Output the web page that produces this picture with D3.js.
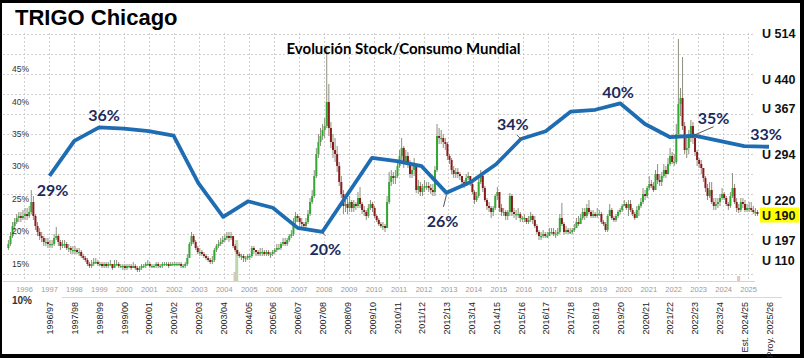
<!DOCTYPE html>
<html><head><meta charset="utf-8">
<script src="https://cdn.jsdelivr.net/npm/d3@7"></script>
<style>body{margin:0;background:#fff} svg{display:block}</style>
</head><body><svg id="c" width="804" height="358"></svg>
<script>
// ---------- DATA ----------
const title = "TRIGO Chicago";
const subtitle = "Evolución Stock/Consumo Mundial";
const pctTicks = [45, 40, 35, 30, 25, 20, 15, 10];
const yearLabels = [1996,1997,1998,1999,2000,2001,2002,2003,2004,2005,2006,2007,2008,2009,2010,
  2011,2012,2013,2014,2015,2016,2017,2018,2019,2020,2021,2022,2023,2024,2025];
const seasons = ["1996/97","1997/98","1998/99","1999/00","2000/01","2001/02","2002/03","2003/04",
  "2004/05","2005/06","2006/07","2007/08","2008/09","2009/10","2010/11","2011/12","2012/13",
  "2013/14","2014/15","2015/16","2016/17","2017/18","2018/19","2019/20","2020/21","2021/22",
  "2022/23","2023/24","Est. 2024/25","Proy. 2025/26"];
// world stock / consumption ratio (%)
const stockRatio = [28.5,33.9,36.0,35.8,35.4,34.7,27.4,22.2,24.6,23.6,20.5,19.9,25.6,31.3,30.8,
  30.0,25.9,27.6,30.3,34.2,35.4,38.4,38.7,39.7,36.5,34.5,34.7,33.9,33.1,33.0];
const annotations = [
  {i:0, text:"29%"}, {i:2, text:"36%"}, {i:11, text:"20%"}, {i:16, text:"26%"},
  {i:19, text:"34%"}, {i:23, text:"40%"}, {i:26, text:"35%"}, {i:29, text:"33%"}];
// Monthly wheat price candles (US$/bu), first month = May 1995
const firstYear = 1995, firstMonth = 5, firstOpen = 3.3;
const closes = [
 3.5,3.9,4.4,4.6,4.8,4.9,4.8,4.9,
 5.0,4.9,5.1,5.6,4.9,4.4,4.1,3.9,3.8,3.6,3.6,3.5,
 3.5,3.5,3.8,3.9,3.6,3.4,3.5,3.5,3.3,3.3,3.2,3.2,
 3.2,3.1,3.1,2.9,2.8,2.7,2.5,2.4,2.5,2.6,2.6,2.5,
 2.5,2.4,2.5,2.4,2.5,2.5,2.3,2.5,2.5,2.4,2.4,2.4,
 2.3,2.4,2.4,2.3,2.4,2.3,2.2,2.3,2.4,2.4,2.5,2.5,
 2.4,2.4,2.4,2.5,2.4,2.4,2.5,2.5,2.5,2.4,2.5,2.5,
 2.5,2.5,2.5,2.4,2.4,2.5,2.8,3.5,3.9,3.6,3.3,3.1,
 3.1,3.0,2.9,2.8,2.7,2.6,2.7,3.2,3.4,3.5,3.6,3.7,
 3.8,3.9,3.8,3.9,3.4,3.2,3.0,2.9,2.9,2.8,2.8,2.9,
 2.9,3.3,3.2,3.1,3.0,3.1,3.1,3.0,3.1,3.0,3.0,3.1,
 3.2,3.3,3.3,3.5,3.6,3.5,3.7,3.9,4.0,4.6,4.9,4.8,
 4.6,4.5,4.4,4.6,5.0,5.6,5.9,6.9,8.0,8.6,8.9,9.2,
 9.4,10.6,9.3,8.6,8.2,8.0,7.4,6.6,6.0,5.4,5.5,5.3,
 5.6,5.3,5.5,5.4,5.8,5.5,5.2,5.1,4.9,5.3,5.5,5.3,
 4.9,4.7,4.5,4.4,4.4,4.3,5.6,6.6,6.9,6.8,6.9,7.4,
 7.9,8.3,7.6,7.9,7.5,7.0,7.2,7.4,6.2,6.4,6.1,6.3,
 6.4,6.4,6.3,6.2,6.1,7.2,8.9,8.8,8.8,8.6,8.5,7.9,
 7.7,7.2,7.0,7.1,7.0,6.9,6.6,6.4,6.8,6.9,6.5,6.1,
 5.7,5.9,6.6,6.9,6.3,5.7,5.4,5.3,5.1,5.3,5.9,6.1,
 5.3,5.1,5.1,4.9,5.1,5.9,5.1,5.0,5.0,5.0,4.8,4.8,
 4.8,4.6,4.7,4.9,4.7,4.4,4.1,3.9,3.9,4.0,3.9,3.9,
 4.1,4.1,4.0,4.0,4.1,4.8,4.5,4.1,4.2,4.1,4.1,4.2,
 4.3,4.6,4.5,4.8,5.1,4.9,5.3,5.1,4.9,5.0,4.9,5.0,
 5.0,4.6,4.5,4.2,4.9,5.2,4.8,4.7,4.9,5.1,5.2,5.4,
 5.5,5.3,5.5,5.2,5.0,4.8,5.2,5.4,5.6,6.0,5.9,6.3,
 6.5,6.4,6.2,7.0,6.7,6.6,6.9,7.2,7.0,7.5,7.9,7.6,
 7.6,9.0,10.5,10.8,9.4,8.2,8.3,8.9,9.4,8.8,8.1,7.7,
 7.5,7.3,6.8,6.3,5.9,6.2,5.6,5.4,5.5,5.6,5.8,6.0,
 5.8,5.5,5.4,5.9,6.3,5.6,5.3,5.2,5.6,5.5,5.2,5.3,
 5.3,5.2,5.1,5.1,5.0];
const highs = [
 3.7,4.1,4.6,4.8,5.0,5.1,5.1,5.2,
 5.3,5.3,5.4,6.2,5.9,5.0,4.6,4.3,4.1,3.9,3.8,3.8,
 3.7,3.7,4.0,4.35,4.0,3.7,3.7,3.7,3.6,3.5,3.4,3.4,
 3.4,3.3,3.3,3.2,3.0,2.9,2.8,2.6,2.7,2.8,2.8,2.7,
 2.6,2.6,2.6,2.6,2.6,2.7,2.5,2.7,2.7,2.6,2.5,2.5,
 2.5,2.5,2.5,2.5,2.6,2.5,2.4,2.4,2.5,2.5,2.6,2.7,
 2.6,2.5,2.5,2.6,2.6,2.5,2.6,2.6,2.6,2.6,2.6,2.6,
 2.6,2.6,2.6,2.6,2.5,2.6,3.0,3.6,4.1,4.0,3.7,3.4,
 3.3,3.2,3.1,3.0,2.9,2.8,2.9,3.3,3.5,3.7,3.8,3.9,
 4.0,4.1,4.1,4.1,3.9,3.5,3.2,3.1,3.0,3.0,2.9,3.0,
 3.0,3.4,3.4,3.2,3.2,3.3,3.3,3.2,3.2,3.2,3.1,3.2,
 3.3,3.5,3.5,3.6,3.8,3.8,3.8,4.0,4.2,4.8,5.1,5.0,
 4.9,4.8,4.6,4.8,5.2,5.8,6.2,7.2,8.3,9.0,9.3,9.5,
 9.8,13.3,11.5,9.6,9.0,8.8,8.4,7.6,6.9,6.2,5.9,5.8,
 5.9,5.7,5.7,5.6,6.1,6.35,5.6,5.4,5.2,5.5,5.7,5.6,
 5.4,5.0,4.8,4.6,4.6,4.5,5.9,7.1,7.2,7.1,7.2,7.6,
 8.2,8.8,8.4,8.2,8.1,7.7,7.5,7.8,7.5,6.7,6.6,6.5,
 6.7,6.6,6.6,6.5,6.5,7.4,9.5,9.3,9.2,9.0,8.8,8.6,
 8.0,7.8,7.4,7.3,7.3,7.1,6.9,6.7,7.0,7.1,6.9,6.6,
 6.2,6.1,6.9,7.2,7.1,6.4,5.8,5.6,5.4,5.4,6.0,6.35,
 6.1,5.5,5.3,5.2,5.2,6.05,6.0,5.3,5.2,5.3,5.1,4.9,
 5.0,4.8,4.9,5.1,5.0,4.9,4.5,4.2,4.1,4.2,4.1,4.1,
 4.3,4.3,4.3,4.2,4.3,5.0,5.55,4.6,4.4,4.3,4.3,4.3,
 4.5,4.8,4.9,5.0,5.3,5.3,5.5,5.7,5.2,5.2,5.1,5.3,
 5.2,5.1,4.7,4.6,5.0,5.5,5.3,4.9,5.0,5.2,5.3,5.5,
 5.7,5.6,5.7,5.7,5.3,5.1,5.4,5.5,5.8,6.3,6.2,6.4,
 6.9,6.7,6.6,7.2,7.5,7.0,7.1,7.5,7.4,7.8,8.3,8.1,
 8.0,9.5,13.75,11.3,12.85,9.6,8.9,9.2,9.7,9.6,8.9,8.2,
 7.8,7.7,7.3,6.9,6.5,6.6,6.6,5.8,5.8,5.8,6.0,6.3,
 6.1,5.9,5.6,6.1,7.05,6.5,5.8,5.5,5.8,5.8,5.7,5.5,
 5.6,5.6,5.4,5.3,5.2];
const lows = [
 3.2,3.4,3.8,4.2,4.5,4.6,4.6,4.7,
 4.7,4.7,4.8,5.0,4.7,4.2,3.9,3.7,3.6,3.4,3.4,3.3,
 3.3,3.3,3.4,3.7,3.4,3.2,3.3,3.3,3.2,3.1,3.0,3.0,
 3.0,3.0,2.9,2.8,2.7,2.6,2.4,2.3,2.3,2.4,2.5,2.4,
 2.4,2.3,2.3,2.3,2.3,2.4,2.2,2.3,2.4,2.3,2.3,2.2,
 2.2,2.2,2.3,2.2,2.3,2.2,2.1,2.1,2.2,2.3,2.3,2.4,
 2.3,2.3,2.3,2.3,2.3,2.3,2.3,2.4,2.4,2.3,2.4,2.4,
 2.4,2.4,2.4,2.3,2.3,2.3,2.4,2.8,3.4,3.5,3.2,3.0,
 2.9,2.9,2.8,2.7,2.6,2.5,2.5,2.6,3.1,3.3,3.4,3.5,
 3.6,3.7,3.6,3.7,3.3,3.1,2.9,2.8,2.7,2.6,2.6,2.7,
 2.7,2.8,3.0,2.9,2.9,2.9,2.9,2.9,2.9,2.9,2.8,2.9,
 3.0,3.1,3.2,3.2,3.4,3.4,3.4,3.6,3.8,3.9,4.5,4.6,
 4.4,4.3,4.2,4.3,4.5,4.9,5.5,5.8,6.8,7.8,8.4,8.7,
 8.8,9.3,8.9,8.3,7.8,7.6,7.1,6.4,5.8,5.0,5.1,5.0,
 5.1,5.1,5.1,5.2,5.3,5.3,5.0,4.9,4.7,4.8,5.2,5.1,
 4.8,4.6,4.4,4.3,4.2,4.1,4.3,5.5,6.4,6.5,6.5,6.8,
 7.3,7.7,7.3,7.5,7.3,6.8,6.8,6.9,6.05,6.0,5.9,5.9,
 6.1,6.2,6.1,6.0,5.9,5.9,7.1,8.5,8.5,8.3,8.2,7.7,
 7.5,7.0,6.8,6.8,6.8,6.7,6.4,6.3,6.4,6.7,6.4,6.0,
 5.5,5.6,5.8,6.5,6.1,5.6,5.2,5.1,4.8,4.9,5.2,5.7,
 5.1,4.9,4.9,4.7,4.7,4.9,4.9,4.8,4.7,4.8,4.6,4.6,
 4.6,4.5,4.5,4.6,4.5,4.3,4.0,3.7,3.7,3.8,3.8,3.8,
 3.9,4.0,3.9,3.8,3.9,4.0,4.4,3.95,4.0,4.0,4.0,4.0,
 4.1,4.3,4.4,4.5,4.7,4.7,4.8,5.0,4.8,4.8,4.8,4.8,
 4.9,4.5,4.4,4.1,4.1,4.9,4.7,4.6,4.6,4.8,5.0,5.1,
 5.4,5.2,4.9,5.1,4.9,4.7,4.8,4.9,5.3,5.5,5.7,5.8,
 6.2,6.3,6.1,6.2,6.5,6.4,6.4,6.8,6.8,7.0,7.4,7.5,
 7.4,7.5,8.9,9.9,9.2,8.0,7.8,8.0,8.6,8.5,7.9,7.4,
 7.3,7.0,6.6,6.1,5.7,5.8,5.5,5.2,5.2,5.3,5.4,5.7,
 5.7,5.4,5.2,5.3,5.8,5.5,5.1,5.05,5.1,5.3,5.1,5.1,
 5.1,5.1,5.0,4.9,4.9];
// faint volume spikes at the bottom of the price panel (date, top level)
const volumeSpikes = [{t:2004.52, v:3.7, c:"#b9d8b0"}, {t:2004.45, v:2.1, c:"#d6c8b8"}, {t:2024.62, v:1.9, c:"#e0c8c0"}];
// right-hand price labels (US$/t) and the price level they sit at (US$/bu)
const rightLabels = ["U 514","U 440","U 367","U 294","U 220","U 190","U 197","U 110"];
const rightLabelLevels = [14.05, 11.75, 10.3, 8.0, 5.7, 4.95, 3.7, 2.7];
const highlightLabel = "U 190";

// ---------- CHART ----------
const W = 804, H = 358;
const svg = d3.select("#c");
svg.append("rect").attr("width", W).attr("height", H).attr("fill", "#000");
svg.append("rect").attr("x", 2).attr("y", 3).attr("width", 798).attr("height", 351).attr("fill", "#fff");

const x = d3.scaleLinear().domain([1996, 2025]).range([24, 748.1]);
const yP = d3.scaleLinear().domain([0, 14]).range([314, 34]);
const yPct = d3.scaleLinear().domain([10, 45]).range([296, 68.9]);
const xS = d3.scalePoint().domain(seasons).range([49.5, 769]);
const plotTop = 33, plotBottom = 281, plotLeft = 3, plotRight = 755;

// grid
const grid = svg.append("g").attr("stroke", "#cfcfcf").attr("stroke-width", 1).attr("stroke-dasharray", "2,2");
grid.selectAll(".h").data(yP.ticks(14).filter(v => v >= 2)).join("line")
  .attr("x1", plotLeft).attr("x2", plotRight)
  .attr("y1", d => Math.round(yP(d)) + 0.5).attr("y2", d => Math.round(yP(d)) + 0.5);
grid.selectAll(".v").data(yearLabels).join("line")
  .attr("x1", d => Math.round(x(d)) + 0.5).attr("x2", d => Math.round(x(d)) + 0.5)
  .attr("y1", plotTop).attr("y2", plotBottom);
svg.append("line").attr("x1", plotLeft).attr("x2", plotRight).attr("y1", plotBottom + 0.5).attr("y2", plotBottom + 0.5)
  .attr("stroke", "#d4d4d4");
svg.append("line").attr("x1", 62).attr("x2", 782).attr("y1", 297.5).attr("y2", 297.5).attr("stroke", "#d8d8d8");

// volume spikes
svg.append("g").selectAll("rect").data(volumeSpikes).join("rect")
  .attr("x", d => x(d.t) - 1.5).attr("width", 3)
  .attr("y", d => yP(d.v)).attr("height", d => plotBottom - yP(d.v)).attr("fill", d => d.c);

// candles
const candles = closes.map((c, i) => {
  const m = firstMonth - 1 + i;
  const t = firstYear + Math.floor(m / 12) + ((m % 12) + 0.5) / 12;
  const o = i === 0 ? firstOpen : closes[i - 1];
  return {t, o, c, h: Math.max(highs[i], o, c), l: Math.min(lows[i], o, c)};
});
const cg = svg.append("g");
cg.selectAll("line").data(candles).join("line")
  .attr("x1", d => x(d.t)).attr("x2", d => x(d.t))
  .attr("y1", d => yP(d.h)).attr("y2", d => yP(d.l))
  .attr("stroke", "#8f8f80").attr("stroke-width", 1);
cg.selectAll("rect").data(candles).join("rect")
  .attr("x", d => x(d.t) - 1).attr("width", 2)
  .attr("y", d => yP(Math.max(d.o, d.c)))
  .attr("height", d => Math.max(1.2, Math.abs(yP(d.o) - yP(d.c))))
  .attr("fill", d => d.c >= d.o ? "#33a832" : "#8a1b1b");

// year axis (price chart)
const yearAxis = svg.append("g").attr("transform", "translate(0,284)")
  .call(d3.axisBottom(x).tickValues(yearLabels).tickFormat(d3.format("d")).tickSize(0).tickPadding(3));
yearAxis.select(".domain").remove();
yearAxis.selectAll("text").attr("fill", "#9a9a9a").style("font", "7.5px 'Liberation Sans', Arial, sans-serif");

// season axis (rotated)
const seasonAxis = svg.append("g").attr("transform", "translate(0,299)")
  .call(d3.axisBottom(xS).tickSize(0));
seasonAxis.select(".domain").remove();
seasonAxis.selectAll("text")
  .attr("transform", "rotate(-90)").attr("x", -3).attr("y", 0).attr("dy", "0.35em")
  .style("text-anchor", "end").attr("fill", "#222")
  .style("font", "9px 'Liberation Sans', Arial, sans-serif");

// percentage axis
const pctAxis = svg.append("g").attr("transform", "translate(12,0)")
  .call(d3.axisRight(yPct).tickValues(pctTicks).tickFormat(d => d + "%").tickSize(0).tickPadding(0));
pctAxis.select(".domain").remove();
pctAxis.selectAll("text").attr("fill", "#333")
  .attr("dy", d => d === 10 ? "0.75em" : "0.32em")
  .style("font", d => d === 10 ? "bold 10px 'Liberation Sans', Arial, sans-serif" : "8.5px 'Liberation Sans', Arial, sans-serif");

// right labels
const hl = rightLabelLevels[rightLabels.indexOf(highlightLabel)];
svg.append("rect").attr("x", 760).attr("y", yP(hl) - 7.5).attr("width", 39).attr("height", 15).attr("fill", "#ffff00");
const rAxis = svg.append("g").attr("transform", "translate(762,0)")
  .call(d3.axisRight(yP).tickValues(rightLabelLevels).tickFormat((d, i) => rightLabels[i]).tickSize(0).tickPadding(0));
rAxis.select(".domain").remove();
rAxis.selectAll("text").attr("fill", "#111").style("font", "bold 12.5px 'Liberation Sans', Arial, sans-serif");

// stock/consumption line
const line = d3.line().x((d, i) => xS(seasons[i])).y(d => yPct(d));
svg.append("path").datum(stockRatio).attr("d", line)
  .attr("fill", "none").attr("stroke", "#1e6db2").attr("stroke-width", 3.8)
  .attr("stroke-linejoin", "round").attr("stroke-linecap", "butt");

// annotation layout (offsets from the data point)
const annLayout = {0:[3,14], 2:[5,-12], 11:[3,17], 16:[-4,28], 19:[-8,-15], 23:[-2,-11], 26:[19,-17], 29:[-3,-13]};
const pointers = {16:[[-3,14],[0,2]], 19:[[-4,-4],[0,0]], 26:[[-4,1],[19,-9]], 11:[[0,1],[3,4]]};
const ag = svg.append("g");
annotations.forEach(a => {
  const px = xS(seasons[a.i]), py = yPct(stockRatio[a.i]);
  const [dx, dy] = annLayout[a.i];
  if (pointers[a.i]) {
    const [p1, p2] = pointers[a.i];
    ag.append("line").attr("x1", px + p1[0]).attr("y1", py + p1[1]).attr("x2", px + p2[0]).attr("y2", py + p2[1])
      .attr("stroke", "#555").attr("stroke-width", 1);
  }
  ag.append("text").attr("x", px + dx).attr("y", py + dy).attr("dy", "0.36em")
    .attr("text-anchor", "middle").attr("fill", "#1c2a5c")
    .style("font", "bold 16px Lato, 'Open Sans', sans-serif").text(a.text);
});

// titles
svg.append("text").attr("x", 15).attr("y", 25).attr("fill", "#000")
  .style("font", "bold 22px 'Liberation Sans', Arial, sans-serif").text(title);
svg.append("text").attr("x", 403.5).attr("y", 54).attr("text-anchor", "middle").attr("fill", "#000")
  .style("font", "bold 15px Lato, 'Open Sans', sans-serif").text(subtitle);
</script>
</body></html>
